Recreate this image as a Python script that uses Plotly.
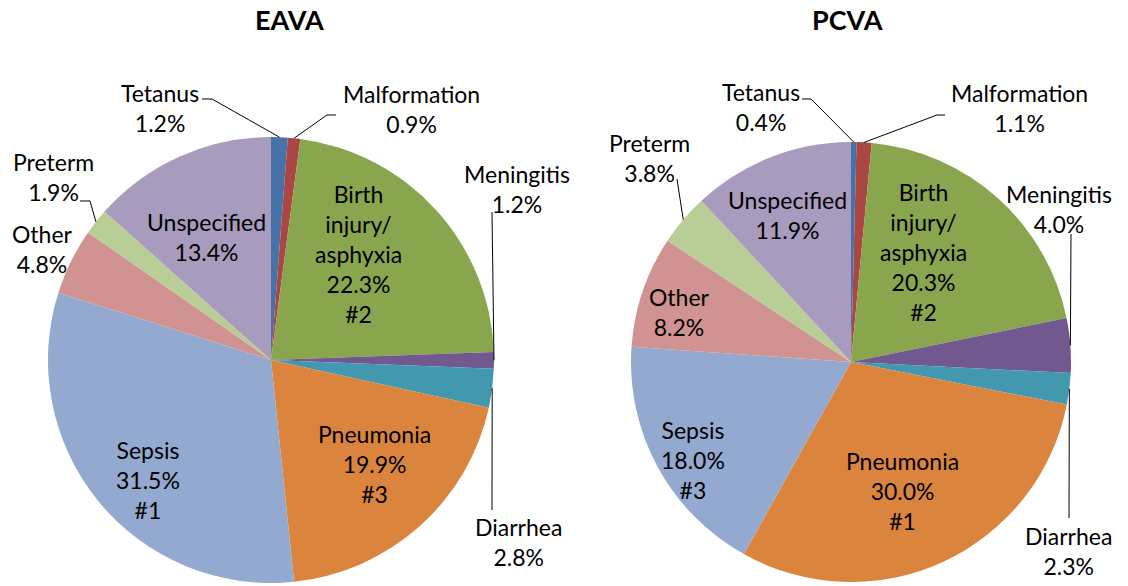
import math
import plotly.graph_objects as go

W, H = 1128, 586

# ---------------- data ----------------
causes = ["Tetanus", "Malformation", "Birth injury/ asphyxia", "Meningitis", "Diarrhea",
          "Pneumonia", "Sepsis", "Other", "Preterm", "Unspecified"]
label_lines = ["Tetanus", "Malformation", "Birth<br>injury/<br>asphyxia", "Meningitis", "Diarrhea",
               "Pneumonia", "Sepsis", "Other", "Preterm", "Unspecified"]
eava_values = [1.2, 0.9, 22.3, 1.2, 2.8, 19.9, 31.5, 4.8, 1.9, 13.4]
pcva_values = [0.4, 1.1, 20.3, 4.0, 2.3, 30.0, 18.0, 8.2, 3.8, 11.9]
eava_rank = {"Sepsis": "#1", "Birth injury/ asphyxia": "#2", "Pneumonia": "#3"}
pcva_rank = {"Pneumonia": "#1", "Birth injury/ asphyxia": "#2", "Sepsis": "#3"}
colors = ["#4572A7", "#AA4643", "#89A54E", "#71588F", "#4198AF",
          "#DB843D", "#93A9CF", "#D19392", "#B9CD96", "#A99BBD"]
titles = ["EAVA", "PCVA"]

# ---------------- layout geometry (pixels) ----------------
pies = [
    dict(values=eava_values, rank=eava_rank, cx=271, cy=360, r=223, title_xy=(289, 20),
         labels={  # cause: (label centre x, y, leader-line start points or None)
             "Tetanus": (160, 108, [(202, 99), (212, 99)]),
             "Malformation": (411, 109, [(336, 115), (327, 115)]),
             "Birth injury/ asphyxia": (358, 254, None),
             "Meningitis": (517, 189, [(492, 212)]),
             "Diarrhea": (518, 542, [(492, 510)]),
             "Pneumonia": (374, 464, None),
             "Sepsis": (148, 480, None),
             "Other": (42, 249, None),
             "Preterm": (53, 177, [(80, 201), (90, 201)]),
             "Unspecified": (206, 237, None),
         }),
    dict(values=pcva_values, rank=pcva_rank, cx=851, cy=362, r=220, title_xy=(847, 20),
         labels={
             "Tetanus": (761, 107, [(802, 99), (811, 99)]),
             "Malformation": (1019, 108, [(945, 115), (937, 115)]),
             "Birth injury/ asphyxia": (923, 252, None),
             "Meningitis": (1059, 209, [(1071, 234)]),
             "Diarrhea": (1068, 551, [(1069, 518)]),
             "Pneumonia": (903, 491, None),
             "Sepsis": (693, 460, None),
             "Other": (679, 312, None),
             "Preterm": (649, 158, [(677, 179)]),
             "Unspecified": (787, 215, None),
         }),
]

FONT = "Lato, 'Open Sans', sans-serif"


def px(x):
    return x / W


def py(y):
    return 1 - y / H


fig = go.Figure()
annotations = []
shapes = []

for i, p in enumerate(pies):
    cx, cy, r = p["cx"], p["cy"], p["r"]
    fig.add_trace(go.Pie(
        labels=causes, values=p["values"], sort=False, direction="clockwise", rotation=0,
        marker=dict(colors=colors, line=dict(width=0)),
        textinfo="none", hoverinfo="label+value", showlegend=False,
        domain=dict(x=[px(cx - r), px(cx + r)], y=[py(cy + r), py(cy - r)]),
    ))
    annotations.append(dict(
        text="<b>%s</b>" % titles[i], x=px(p["title_xy"][0]), y=py(p["title_xy"][1]),
        xref="paper", yref="paper", showarrow=False, xanchor="center", yanchor="middle",
        font=dict(family=FONT, size=27, color="black")))

    total = sum(p["values"])
    cum = 0.0
    for cause, lines, v in zip(causes, label_lines, p["values"]):
        mid = (cum + v / 2) / total * 2 * math.pi
        cum += v
        lx, ly, lead = p["labels"][cause]
        txt = "%s<br>%.1f%%" % (lines, v)
        if cause in p["rank"]:
            txt += "<br>" + p["rank"][cause]
        annotations.append(dict(
            text=txt, x=px(lx), y=py(ly), xref="paper", yref="paper", showarrow=False,
            xanchor="center", yanchor="middle", align="center",
            font=dict(family=FONT, size=23, color="black")))
        if lead:
            ax = cx + r * math.sin(mid)
            ay = cy - r * math.cos(mid)
            pts = lead + [(ax, ay)]
            path = "M " + " L ".join("%f,%f" % (px(a), py(b)) for a, b in pts)
            shapes.append(dict(type="path", path=path, xref="paper", yref="paper",
                               line=dict(color="black", width=1)))

fig.update_layout(
    width=W, height=H, margin=dict(l=0, r=0, t=0, b=0),
    paper_bgcolor="white", plot_bgcolor="white",
    annotations=annotations, shapes=shapes,
    font=dict(family=FONT),
)

fig.write_html("out.html", config={"displayModeBar": False},
               post_script="document.body.style.margin='0';document.body.style.overflow='hidden';")
